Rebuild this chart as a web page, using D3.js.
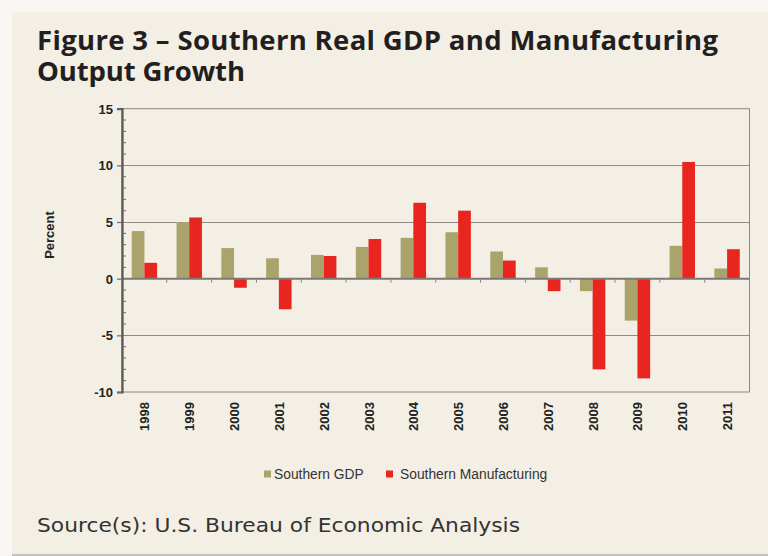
<!DOCTYPE html>
<meta charset="utf-8">
<head>
<style>
  body {
    margin: 0;
    background-color: #f7f6f2;
  }
  svg { display: block; }
  .tick-label {
    font-family: "Liberation Sans", Arial, sans-serif;
    font-weight: bold;
    font-size: 13px;
    fill: #222;
  }
  .legend-text {
    font-family: "Liberation Sans", Arial, sans-serif;
    font-size: 13.8px;
    fill: #333;
  }
</style>
</head>
<body>
<svg id="chart" width="768" height="556"></svg>
<script src="https://d3js.org/d3.v7.min.js"></script>
<script>

var years = ["1998","1999","2000","2001","2002","2003","2004","2005","2006","2007","2008","2009","2010","2011"];
var gdp = [4.2, 5.0, 2.7, 1.8, 2.1, 2.8, 3.6, 4.1, 2.4, 1.0, -1.1, -3.7, 2.9, 0.9];
var manufacturing = [1.4, 5.4, -0.8, -2.7, 2.0, 3.5, 6.7, 6.0, 1.6, -1.1, -8.0, -8.8, 10.3, 2.6];
var yTicks = [-10, -5, 0, 5, 10, 15];
var seriesNames = ["Southern GDP", "Southern Manufacturing"];
var seriesColors = ["#aaa46c", "#e8251f"];

var svg = d3.select("#chart");

// panel with shadow
svg.append("rect").attr("x", 12).attr("y", 13).attr("width", 756).attr("height", 543).attr("fill", "#c4c2bd");
svg.append("rect").attr("x", 12).attr("y", 12).attr("width", 756).attr("height", 542).attr("fill", "#f3efe5");

// title
var title = svg.append("text")
    .attr("font-family", "'Open Sans', sans-serif")
    .attr("font-weight", 700)
    .attr("font-size", 27.5)
    .attr("fill", "#231f20");
title.append("tspan").attr("x", 37).attr("y", 50)
    .attr("textLength", 681).attr("lengthAdjust", "spacing")
    .text("Figure 3 \u2013 Southern Real GDP and Manufacturing");
title.append("tspan").attr("x", 37).attr("y", 81)
    .attr("textLength", 208).attr("lengthAdjust", "spacing")
    .text("Output Growth");

var plotLeft = 122, plotRight = 749.5, plotTop = 108.7, plotBottom = 392;

var x = d3.scaleBand().domain(years).range([plotLeft, plotRight]).padding(0);
var xs = d3.scaleBand().domain([0, 1]).range([0, x.bandwidth()]).paddingInner(0).paddingOuter(0.765);
var y = d3.scaleLinear().domain([-10, 15]).range([plotBottom, plotTop]);

var g = svg.append("g");

// plot border
g.append("rect")
    .attr("x", plotLeft).attr("y", y(15))
    .attr("width", plotRight - plotLeft).attr("height", y(-10) - y(15))
    .attr("fill", "none").attr("stroke", "#8a8784").attr("stroke-width", 1);

// gridlines
g.selectAll(".grid")
    .data([-5, 5, 10])
    .enter().append("line")
    .attr("x1", plotLeft).attr("x2", plotRight)
    .attr("y1", function(d) { return Math.round(y(d)) + 0.5; })
    .attr("y2", function(d) { return Math.round(y(d)) + 0.5; })
    .attr("stroke", "#8f8c87").attr("stroke-width", 1.2);

// bars
var series = [gdp, manufacturing];
series.forEach(function(vals, si) {
  g.selectAll(".bar" + si)
      .data(vals)
      .enter().append("rect")
      .attr("x", function(d, i) { return x(years[i]) + xs(si); })
      .attr("width", xs.bandwidth())
      .attr("y", function(d) { return y(Math.max(0, d)); })
      .attr("height", function(d) { return Math.abs(y(d) - y(0)); })
      .attr("fill", seriesColors[si]);
});

// zero line (category axis)
g.append("line")
    .attr("x1", plotLeft).attr("x2", plotRight)
    .attr("y1", y(0)).attr("y2", y(0))
    .attr("stroke", "#7b7876").attr("stroke-width", 2);

// category ticks
g.selectAll(".ctick")
    .data(years)
    .enter().append("line")
    .attr("x1", function(d) { return x(d) + x.bandwidth(); })
    .attr("x2", function(d) { return x(d) + x.bandwidth(); })
    .attr("y1", y(0)).attr("y2", y(0) + 4)
    .attr("stroke", "#8a8784").attr("stroke-width", 1);

// y axis
var yAxis = d3.axisLeft(y).tickValues(yTicks).tickSize(5).tickPadding(4)
    .tickFormat(function(d) { return String(d); });
var ya = g.append("g").attr("transform", "translate(" + plotLeft + ",0)").call(yAxis);
ya.select(".domain").attr("stroke", "#595756").attr("stroke-width", 2.2);
ya.selectAll(".tick line").attr("stroke", "#6d6a68").attr("stroke-width", 1.2);
ya.selectAll(".tick text").attr("class", "tick-label").attr("dy", "0.35em");

// minor ticks
var minor = d3.range(-10, 16).filter(function(v) { return v % 5 !== 0; });
g.selectAll(".mtick")
    .data(minor)
    .enter().append("line")
    .attr("x1", plotLeft).attr("x2", plotLeft + 4)
    .attr("y1", function(d) { return y(d); })
    .attr("y2", function(d) { return y(d); })
    .attr("stroke", "#6d6a68").attr("stroke-width", 1);

// x labels
g.selectAll(".xlabel")
    .data(years)
    .enter().append("text")
    .attr("class", "tick-label")
    .attr("text-anchor", "end")
    .attr("transform", function(d) {
      return "translate(" + (x(d) + x.bandwidth() / 2 + 5) + "," + (plotBottom + 10) + ") rotate(-90)";
    })
    .text(function(d) { return d; });

// y axis title
svg.append("text")
    .attr("class", "tick-label")
    .attr("text-anchor", "middle")
    .attr("transform", "translate(54,235) rotate(-90)")
    .text("Percent");

// legend
var legendX = [264, 386];
var legendTextX = [274, 400];
seriesNames.forEach(function(name, i) {
  svg.append("rect")
      .attr("x", legendX[i]).attr("y", 470.5)
      .attr("width", 7).attr("height", 7)
      .attr("fill", seriesColors[i]);
  svg.append("text")
      .attr("class", "legend-text")
      .attr("x", legendTextX[i]).attr("y", 478.5)
      .text(name);
});

// source
svg.append("text")
    .attr("x", 37).attr("y", 532)
    .attr("font-family", "'DejaVu Sans', sans-serif")
    .attr("font-weight", 400)
    .attr("font-size", 19)
    .attr("fill", "#333")
    .attr("textLength", 483).attr("lengthAdjust", "spacingAndGlyphs")
    .text("Source(s): U.S. Bureau of Economic Analysis");

</script>
</body>
</html>
